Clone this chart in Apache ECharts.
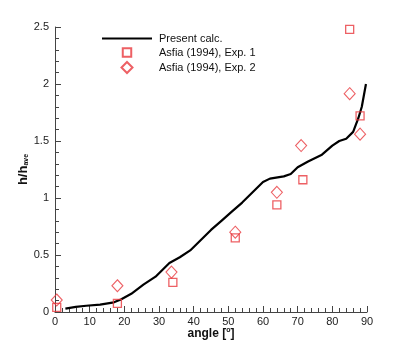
<!DOCTYPE html>
<html><head><meta charset="utf-8">
<script src="https://cdn.jsdelivr.net/npm/echarts@6/dist/echarts.min.js"></script>
<style>html,body{margin:0;padding:0;background:#fff}#c{width:420px;height:356px}</style>
</head><body><div id="c"></div>
<script>
const calcAngle = [3,6,9,13,17,19,22,25.5,29,33,36,39,42,45,48,51,54,57,60,62,66,68,70,73,77,80,82,84,86,87.5,88.5,89.7];
const calcH = [0.03,0.045,0.055,0.065,0.085,0.11,0.16,0.24,0.31,0.43,0.48,0.54,0.63,0.72,0.80,0.88,0.96,1.05,1.14,1.17,1.19,1.21,1.27,1.32,1.38,1.46,1.50,1.52,1.58,1.70,1.80,2.0];
const exp1Angle = [0.5,18,34,52,64,71.5,85,88];
const exp1H = [0.04,0.076,0.26,0.65,0.94,1.16,2.48,1.72];
const exp2Angle = [0.5,18,33.6,52,64,71,85,88];
const exp2H = [0.105,0.23,0.35,0.70,1.05,1.46,1.915,1.56];
const seriesNames = ['Present calc.','Asfia (1994), Exp. 1','Asfia (1994), Exp. 2'];

const zip = (a,b)=>a.map((v,i)=>[v,b[i]]);
const red = '#e8383d';
const font = 'Liberation Sans';
const chart = echarts.init(document.getElementById('c'));
chart.setOption({
  animation:false,
  backgroundColor:'#fff',
  textStyle:{fontFamily:font},
  grid:{left:55,top:27,right:53,bottom:44,containLabel:false},
  legend:{
    left:102, top:33, padding:0, orient:'vertical', itemGap:2, itemWidth:50, itemHeight:11,
    textStyle:{fontFamily:font,fontSize:11,color:'#111',padding:[0,0,0,2]},
    data:[
      {name:seriesNames[0], icon:'path://M0,0H50V2.2H0Z', itemStyle:{color:'#000',borderWidth:0}},
      {name:seriesNames[1], icon:'path://M-0.15,-0.15M1.15,1.15M0,0H1V1H0Z'},
      {name:seriesNames[2], icon:'path://M0.5,0L1,0.5L0.5,1L0,0.5Z'}
    ]
  },
  xAxis:{
    type:'value', min:0, max:90, interval:10,
    name:'angle [{sup|o}]', nameLocation:'middle', nameGap:15, nameMoveOverlap:false,
    nameTextStyle:{fontFamily:font,fontSize:12,fontWeight:'bold',color:'#111',
      rich:{sup:{fontSize:7,fontWeight:'bold',verticalAlign:'top',padding:[0,0,6,0]}}},
    axisLine:{lineStyle:{color:'#444',width:1}},
    axisTick:{inside:true,length:6,lineStyle:{color:'#444'}},
    minorTick:{show:true,splitNumber:5,length:4,lineStyle:{color:'#444'}},
    axisLabel:{fontFamily:font,fontSize:11,color:'#222',margin:4},
    splitLine:{show:false}
  },
  yAxis:{
    type:'value', min:0, max:2.5, interval:0.5,
    name:'h/h{sub|ave}', nameLocation:'middle', nameGap:25, nameMoveOverlap:false,
    nameTextStyle:{fontFamily:font,fontSize:13,fontWeight:'bold',color:'#111',
      rich:{sub:{fontSize:7,fontWeight:'bold',verticalAlign:'bottom',padding:[6,0,0,0]}}},
    axisLine:{show:true,lineStyle:{color:'#444',width:1}},
    axisTick:{show:true,inside:true,length:6,lineStyle:{color:'#444'}},
    minorTick:{show:true,splitNumber:5,length:4,lineStyle:{color:'#444'}},
    axisLabel:{fontFamily:font,fontSize:11,color:'#222',margin:6},
    splitLine:{show:false}
  },
  series:[
    {name:seriesNames[0],type:'line',data:zip(calcAngle,calcH),showSymbol:false,symbol:'none',
      lineStyle:{color:'#000',width:2.2},itemStyle:{color:'#000'},z:3},
    {name:seriesNames[1],type:'scatter',data:zip(exp1Angle,exp1H),symbol:'rect',symbolSize:8,
      itemStyle:{color:'rgba(0,0,0,0)',borderColor:red,borderWidth:1.3},z:4},
    {name:seriesNames[2],type:'scatter',data:zip(exp2Angle,exp2H),symbol:'diamond',symbolSize:[11,12],
      itemStyle:{color:'rgba(0,0,0,0)',borderColor:red,borderWidth:1.1},z:4}
  ]
});
</script></body></html>
